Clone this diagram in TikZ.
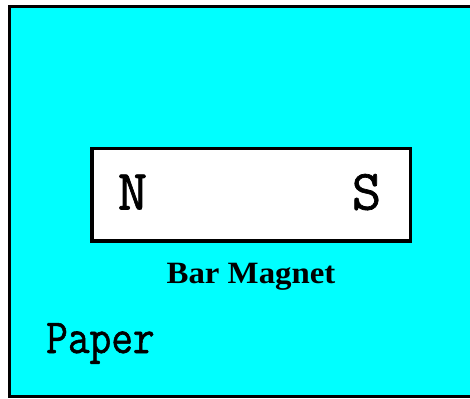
\documentclass[tikz,border=0pt]{standalone}
\usepackage{fontspec}
\setmainfont{Liberation Serif}
\newfontfamily\slabfont[FakeBold=1.2]{Latin Modern Mono}
\definecolor{papercyan}{RGB}{0,255,255}
\tikzset{
  paperfill/.style={fill=papercyan},
  paperedge/.style={draw=black, line width=3pt, line join=miter},
  magnetbox/.style={draw=black, fill=white, line width=3.5pt, rectangle, inner sep=0pt},
  pole/.style={anchor=base, inner sep=0pt, font=\slabfont\fontsize{57}{57}\selectfont},
  caption/.style={anchor=base, inner sep=0pt, font=\bfseries\fontsize{31}{31}\selectfont},
  papertext/.style={anchor=base west, inner sep=0pt, font=\slabfont\fontsize{49}{49}\selectfont}
}
\begin{document}
\begin{tikzpicture}[x=1pt,y=-1pt]
\useasboundingbox (0,0) rectangle (470,398);
\fill[white] (0,0) rectangle (470,398);
\fill[paperfill] (9.5,7) rectangle (470,396);
\draw[paperedge] (470,7) -- (9.5,7) -- (9.5,396) -- (470,396);
\node[magnetbox, minimum width=318.5pt, minimum height=92.5pt] (magnet) at (251.25,194.75) {};
\node[pole] (north) at (132.5,209.5) {N};
\node[pole] (south) at (366.5,209.5) {S};
\node[caption] (label) at (251,283) {\scalebox{1.06}[1]{Bar Magnet}};
\node[papertext] (paper) at (46,353) {\scalebox{0.86}[1]{Paper}};
\end{tikzpicture}
\end{document}
